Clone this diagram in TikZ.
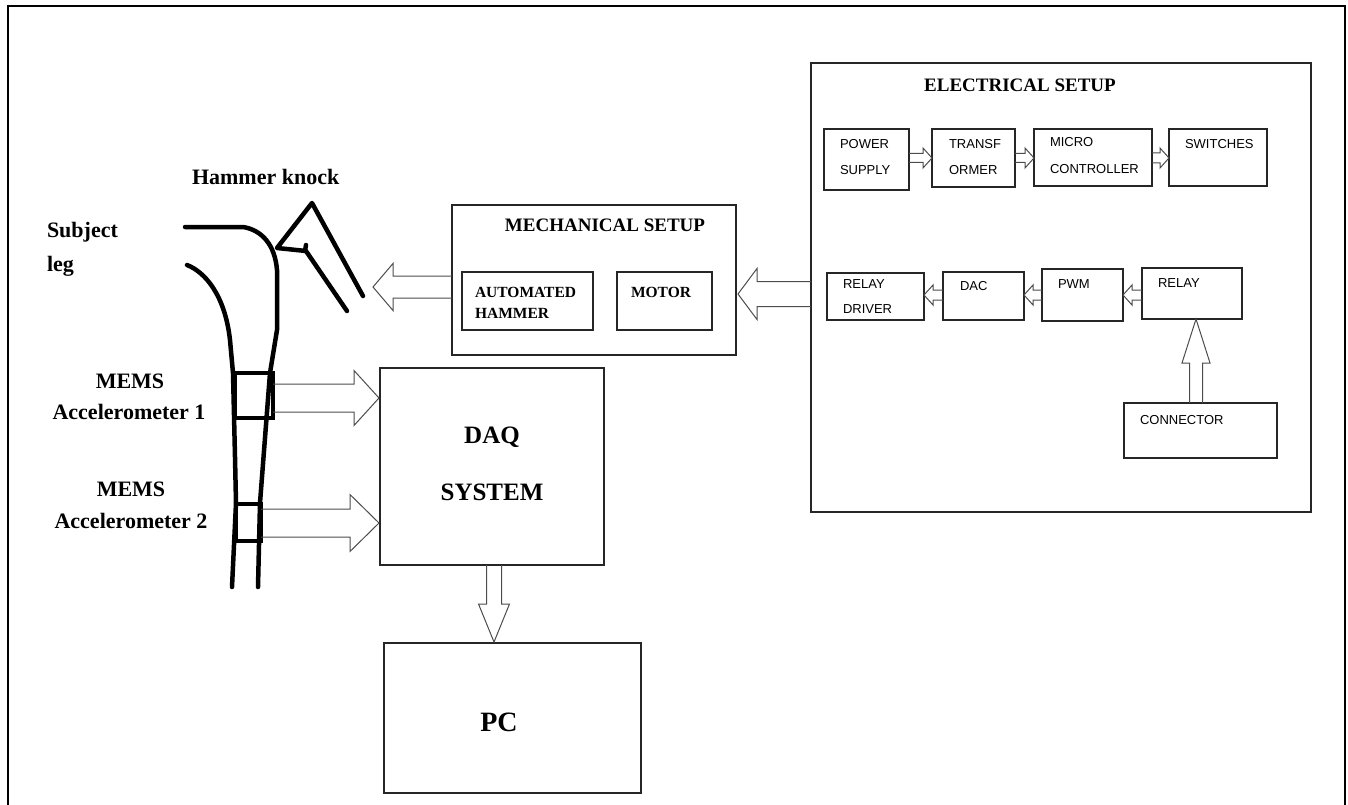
\documentclass[tikz,border=0pt]{standalone}
\usepackage{fontspec}
\setmainfont{Liberation Serif}
\newfontfamily\sansf{Liberation Sans}
\usetikzlibrary{calc}
\tikzset{
  bx/.style={draw=black!85, line width=1.4pt, inner sep=0pt, outer sep=0pt},
  frameline/.style={draw=black, line width=2pt},
  legline/.style={draw=black, line width=4.5pt, line cap=round, line join=round},
  accbox/.style={draw=black, line width=4.5pt, inner sep=0pt, outer sep=0pt},
  barrow/.style={draw=black!70, line width=1pt, line join=miter},
  lbl/.style={inner sep=0pt, outer sep=0pt},
  sb22/.style={lbl, font=\fontsize{22}{24}\selectfont\bfseries},
  sb25/.style={lbl, font=\fontsize{25}{28}\selectfont\bfseries},
  sb28/.style={lbl, font=\fontsize{28}{30}\selectfont\bfseries},
  sb19/.style={lbl, font=\fontsize{19}{21}\selectfont\bfseries},
  sb15/.style={lbl, font=\fontsize{15.5}{17}\selectfont\bfseries},
  ss13/.style={lbl, font=\fontsize{13}{15}\selectfont\sansf},
}
\newcommand\mkbox[6][bx]{\node[#1,anchor=north west,minimum width={(#5)-(#3)},minimum height={(#6)-(#4)}] (#2) at (#3,#4) {};}
\newcommand\BArrow[6]{%
  \coordinate (#1h) at ($(#3)!#6!(#2)$);
  \draw[barrow] ($(#2)!#4!90:(#3)$) -- ($(#1h)!#4!90:(#3)$) -- ($(#1h)!#5!90:(#3)$) -- (#3) -- ($(#1h)!#5!-90:(#3)$) -- ($(#1h)!#4!-90:(#3)$) -- ($(#2)!#4!-90:(#3)$);}
\begin{document}
\begin{tikzpicture}[x=1pt,y=-1pt]
\useasboundingbox (0,0) rectangle (1348,805);
% outer frame
\draw[frameline] (8,805) -- (8,6) -- (1345,6) -- (1345,805);

% boxes
\mkbox{elec}{811}{63}{1311}{512}
\mkbox{mech}{452}{205}{736}{355}
\mkbox{ah}{462}{272}{593}{330}
\mkbox{mo}{617}{272}{712}{330}
\mkbox{daq}{380}{368}{604}{565}
\mkbox{pc}{384}{643}{641}{793}
\mkbox{ps}{824}{129}{909}{190}
\mkbox{tr}{932}{129}{1015}{187}
\mkbox{mc}{1034}{129}{1152}{186}
\mkbox{sw}{1169}{129}{1267}{186}
\mkbox{rd}{827}{273}{924}{320}
\mkbox{dac}{943}{272}{1024}{320}
\mkbox{pwm}{1042}{269}{1123}{321}
\mkbox{rl}{1142}{268}{1242}{319}
\mkbox{con}{1124}{403}{1277}{458}

% leg
\draw[legline] (185,227) -- (243,227) .. controls (262,230) and (275,245) .. (277,270) -- (277,330) -- (270,373) -- (260,503) -- (258,587);
\draw[legline] (187,265) .. controls (205,272) and (225,295) .. (230,340) -- (233,373) -- (235,457) -- (236,503) -- (232,587);
\mkbox[accbox]{acc1}{235}{373}{273}{418}
\mkbox[accbox]{acc2}{236}{504}{261}{541}
% hammer
\draw[legline] (363,296) -- (312,203) -- (277,248) -- (306,251) -- (347,311);
\draw[legline] (305,251) -- (306,245);

% texts
\node[sb22,anchor=base west] (thk) at (192,185) {Hammer knock};
\node[sb22,anchor=base west] (tsub) at (47,237) {Subject};
\node[sb22,anchor=base west] (tleg) at (47,271) {leg};
\node[sb22,anchor=base] (tm1) at (130,388) {MEMS};
\node[sb22,anchor=base] (ta1) at (129,419) {Accelerometer 1};
\node[sb22,anchor=base] (tm2) at (131,496) {MEMS};
\node[sb22,anchor=base] (ta2) at (131,528) {Accelerometer 2};
\node[sb25,anchor=base] (tdaq) at (492,443) {DAQ};
\node[sb25,anchor=base] (tsys) at (492,500) {SYSTEM};
\node[sb28,anchor=base] (tpc) at (499,731) {PC};
\node[sb19,anchor=base] (tmech) at (605,231) {MECHANICAL SETUP};
\node[sb15,anchor=base west] (tah1) at (475,297) {AUTOMATED};
\node[sb15,anchor=base west] (tah2) at (475,318) {HAMMER};
\node[sb15,anchor=base west] (tmo) at (631,297) {MOTOR};
\node[sb19,anchor=base] (telec) at (1020,92) {ELECTRICAL SETUP};
\node[ss13,anchor=base west] (tps1) at (840,149) {POWER};
\node[ss13,anchor=base west] (tps2) at (840,175) {SUPPLY};
\node[ss13,anchor=base west] (ttr1) at (949,149) {TRANSF};
\node[ss13,anchor=base west] (ttr2) at (949,175) {ORMER};
\node[ss13,anchor=base west] (tmc1) at (1050,147) {MICRO};
\node[ss13,anchor=base west] (tmc2) at (1050,174) {CONTROLLER};
\node[ss13,anchor=base west] (tsw) at (1185,149) {SWITCHES};
\node[ss13,anchor=base west] (trd1) at (843,288) {RELAY};
\node[ss13,anchor=base west] (trd2) at (843,313) {DRIVER};
\node[ss13,anchor=base west] (tdac) at (960,290) {DAC};
\node[ss13,anchor=base west] (tpwm) at (1058,288) {PWM};
\node[ss13,anchor=base west] (trl) at (1158,287) {RELAY};
\node[ss13,anchor=base west] (tcon) at (1140,424) {CONNECTOR};

% arrow end coordinates
\coordinate (legtip) at (373,287);
\coordinate (a1s) at (mech.west |- legtip);
\coordinate (mtip) at (738,294);
\coordinate (a2s) at (elec.west |- mtip);
\coordinate (a3t) at (379,398);
\coordinate (a3s) at (acc1.east |- a3t);
\coordinate (a4t) at (379,523);
\coordinate (a4s) at (acc2.east |- a4t);
\coordinate (a5t) at (494,642);
\coordinate (a5s) at (daq.south -| a5t);
\coordinate (r1) at (0,158);
\coordinate (a6s) at (ps.east |- r1);
\coordinate (a6t) at (tr.west |- r1);
\coordinate (a7s) at (tr.east |- r1);
\coordinate (a7t) at (mc.west |- r1);
\coordinate (a8s) at (mc.east |- r1);
\coordinate (a8t) at (sw.west |- r1);
\coordinate (r2) at (0,295);
\coordinate (a9s) at (rl.west |- r2);
\coordinate (a9t) at (pwm.east |- r2);
\coordinate (a10s) at (pwm.west |- r2);
\coordinate (a10t) at (dac.east |- r2);
\coordinate (a11s) at (dac.west |- r2);
\coordinate (a11t) at (rd.east |- r2);
\coordinate (cx) at (1196,0);
\coordinate (a12s) at (con.north -| cx);
\coordinate (a12t) at (rl.south -| cx);

% block arrows
\BArrow{A1}{a1s}{legtip}{11pt}{23.5pt}{20pt}
\BArrow{A2}{a2s}{mtip}{12.5pt}{25.5pt}{19pt}
\BArrow{A3}{a3s}{a3t}{14pt}{27.5pt}{25pt}
\BArrow{A4}{a4s}{a4t}{14pt}{28.5pt}{29pt}
\BArrow{A5}{a5s}{a5t}{7.5pt}{15.5pt}{38pt}
\BArrow{A6}{a6s}{a6t}{4.5pt}{10pt}{9pt}
\BArrow{A7}{a7s}{a7t}{4.5pt}{10pt}{9pt}
\BArrow{A8}{a8s}{a8t}{5pt}{10pt}{9pt}
\BArrow{A9}{a9s}{a9t}{5pt}{10pt}{9pt}
\BArrow{A10}{a10s}{a10t}{5pt}{10pt}{9pt}
\BArrow{A11}{a11s}{a11t}{5pt}{10pt}{9pt}
\BArrow{A12}{a12s}{a12t}{6.5pt}{14pt}{44pt}
\end{tikzpicture}
\end{document}
